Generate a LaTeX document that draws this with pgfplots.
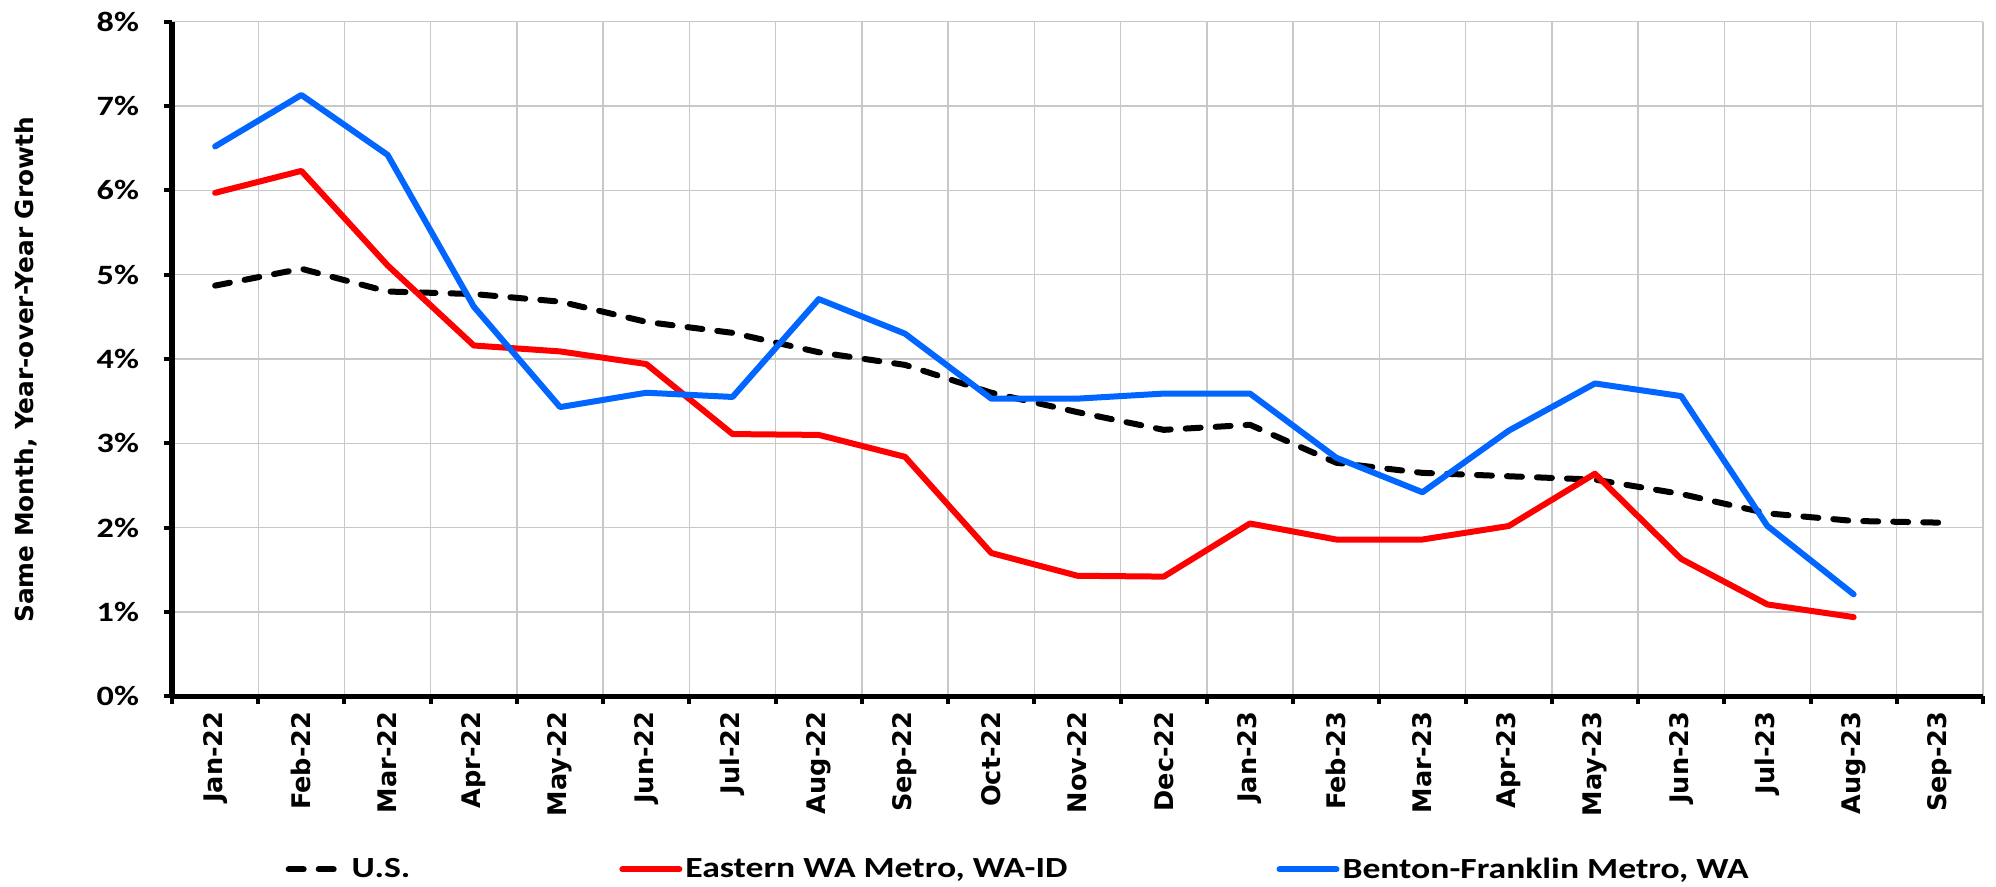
\documentclass[border=0pt]{standalone}
\usepackage{pgfplots}
\pgfplotsset{compat=1.18}
\usepackage{pgfplotstable}
\usepackage{fontspec}
\setmainfont{Carlito}
\newfontfamily\carl[FakeStretch=1.22]{Carlito}
\newfontfamily\dvs{DejaVu Sans}
\definecolor{bfblue}{RGB}{0,102,255}
\definecolor{gridgray}{RGB}{200,200,200}

\pgfplotstableread{
x us ew bf
0 4.87 5.97 6.52
1 5.07 6.23 7.13
2 4.80 5.11 6.42
3 4.77 4.16 4.62
4 4.68 4.09 3.43
5 4.44 3.94 3.60
6 4.31 3.11 3.55
7 4.08 3.10 4.71
8 3.93 2.84 4.30
9 3.60 1.70 3.53
10 3.37 1.43 3.53
11 3.16 1.42 3.59
12 3.22 2.05 3.59
13 2.77 1.86 2.83
14 2.65 1.86 2.42
15 2.61 2.02 3.15
16 2.57 2.64 3.71
17 2.40 1.63 3.56
18 2.17 1.09 2.02
19 2.08 0.94 1.21
20 2.06 nan nan
}\data

\begin{document}
\begin{tikzpicture}
\useasboundingbox (-86pt,-95pt) rectangle (912pt,348.2pt);
\begin{axis}[
  at={(0pt,0pt)}, anchor=south west,
  scale only axis, width=905.5pt, height=337.4pt,
  xmin=-0.5, xmax=20.5, ymin=0, ymax=8,
  xtick={0,...,20},
  xticklabels={Jan-22,Feb-22,Mar-22,Apr-22,May-22,Jun-22,Jul-22,Aug-22,Sep-22,Oct-22,Nov-22,Dec-22,Jan-23,Feb-23,Mar-23,Apr-23,May-23,Jun-23,Jul-23,Aug-23,Sep-23},
  minor xtick={-0.5,0.5,...,20.5},
  ytick={0,...,8},
  yticklabels={0\%,1\%,2\%,3\%,4\%,5\%,6\%,7\%,8\%},
  xminorgrids=true, ymajorgrids=true,
  grid style={gridgray, line width=0.7pt},
  minor grid style={gridgray, line width=0.7pt},
  tick align=outside,
  major tick length=4pt, minor tick length=4pt,
  tick style={black, line width=2pt},
  major x tick style={draw=none},
  axis x line*=bottom, axis y line*=left,
  axis line style={line width=2.75pt, -},
  xticklabel style={rotate=90, anchor=east, font=\dvs\bfseries\fontsize{12.8}{13}\selectfont},
  yticklabel style={xshift=-9pt, font=\carl\bfseries\fontsize{14}{15}\selectfont},
  ylabel={Same Month, Year-over-Year Growth},
  ylabel style={at={(axis description cs:-0.0806,0.484)}, anchor=center, font=\dvs\bfseries\fontsize{12.4}{13}\selectfont},
  legend columns=3,
  legend style={at={(axis description cs:0.4675,0)}, anchor=center, yshift=-86.5pt,
    draw=none, fill=none, inner sep=0pt,
    font=\carl\bfseries\fontsize{14.6}{16}\selectfont,
    nodes={inner sep=1.5pt},
    /tikz/every even column/.append style={column sep=103pt}},
  legend image code/.code={\draw[#1] (0pt,0pt) -- (28.5pt,0pt);},
]
\addplot[black, line width=3pt, line cap=round, dash pattern=on 7.5pt off 7.5pt] table[x=x,y=us] {\data};
\addlegendentry{U.S.}
\addplot[red, line width=3pt, line join=round, line cap=round] table[x=x,y=ew] {\data};
\addlegendentry{Eastern WA Metro, WA-ID}
\addplot[bfblue, line width=3pt, line join=round, line cap=round] table[x=x,y=bf] {\data};
\addlegendentry{Benton-Franklin Metro, WA}
\end{axis}
\end{tikzpicture}
\end{document}
